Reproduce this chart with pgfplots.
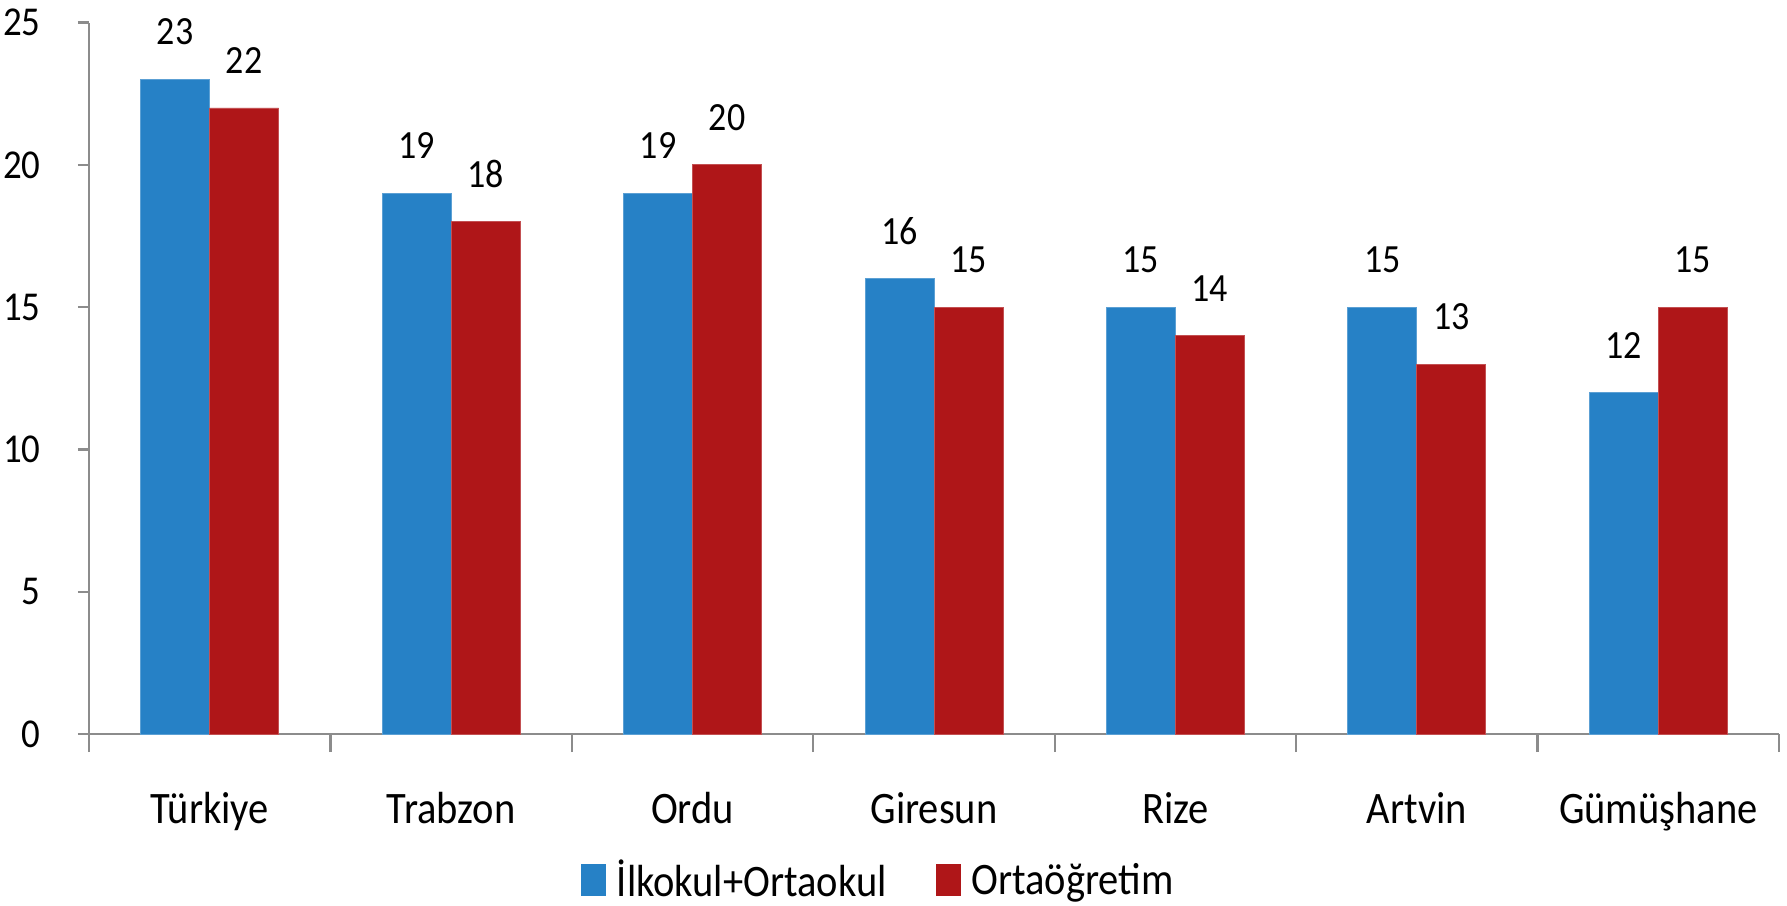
\documentclass[border=0pt]{standalone}
\usepackage{pgfplots}
\pgfplotsset{compat=1.18}
\usepackage{fontspec}
\setmainfont{Carlito}[FakeStretch=0.9]
\definecolor{cblue}{HTML}{2681C6}
\definecolor{cred}{HTML}{AF1618}
\definecolor{axgray}{HTML}{8C8C8C}
\begin{document}
\begin{tikzpicture}
\path[use as bounding box] (-44.5pt,-85.5pt) rectangle (849pt,367pt);
\begin{axis}[
  at={(0pt,0pt)}, anchor=south west,
  width=845pt, height=355.7pt, scale only axis,
  clip=false,
  ybar=0pt, bar width=34.5pt,
  xmin=-0.5, xmax=6.5, ymin=0, ymax=25,
  axis x line*=bottom, axis y line*=left,
  axis line style={draw=axgray, line width=1.2pt},
  xtick={0,...,6},
  xticklabels={Türkiye,Trabzon,Ordu,Giresun,Rize,Artvin,Gümüşhane},
  xtick style={draw=none},
  extra x ticks={-0.5,0.5,...,6.5}, extra x tick labels={},
  extra x tick style={xtick style={draw=axgray, line width=1.2pt}, major tick length=9pt},
  ytick={0,5,...,25},
  ytick style={draw=axgray, line width=1.2pt},
  major tick length=5.5pt,
  tick align=outside,
  xticklabel style={font=\fontsize{22.5pt}{26pt}\selectfont, anchor=base, inner sep=0pt, yshift=-39pt},
  yticklabel style={font=\fontsize{20.5pt}{24pt}\selectfont, anchor=east, inner sep=0pt, xshift=-18.5pt},
  /pgf/number format/assume math mode=true,
  nodes near coords,
  every node near coord/.append style={font=\fontsize{20pt}{24pt}\selectfont, anchor=south, inner sep=0pt, yshift=17pt},
  legend columns=2,
  legend style={at={(0.468,0)}, anchor=center, yshift=-73pt, draw=none,
    font=\fontsize{22.5pt}{26pt}\selectfont, inner sep=0pt,
    nodes={inner sep=2.5pt},
    /tikz/every odd column/.append style={column sep=3pt},
    /tikz/every even column/.append style={column sep=22pt}},
]
\addplot[fill=cblue, draw=cblue!75!white, line width=0.4pt,
  legend image code/.code={\fill[cblue] (0pt,-7.75pt) rectangle (12pt,7.75pt);}]
  coordinates {(0,23)(1,19)(2,19)(3,16)(4,15)(5,15)(6,12)};
\addplot[fill=cred, draw=cred!75!white, line width=0.4pt,
  legend image code/.code={\fill[cred] (0pt,-7.75pt) rectangle (12pt,7.75pt);}]
  coordinates {(0,22)(1,18)(2,20)(3,15)(4,14)(5,13)(6,15)};
\legend{İlkokul+Ortaokul, Ortaöğretim}
\end{axis}
\end{tikzpicture}
\end{document}
